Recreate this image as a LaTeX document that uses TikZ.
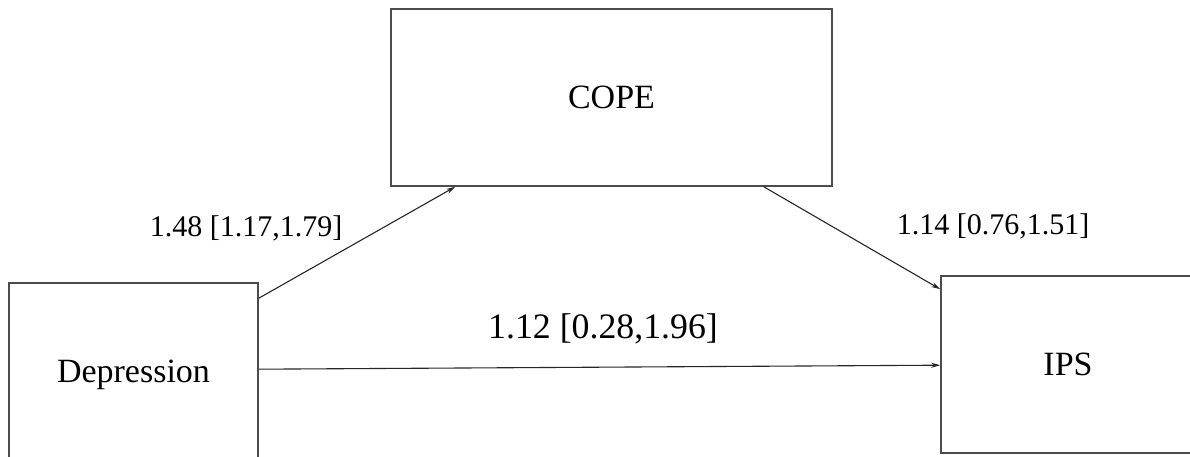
\documentclass[tikz,border=0pt]{standalone}
\usepackage{fontspec}
\setmainfont{Liberation Serif}
\usetikzlibrary{calc,arrows.meta}
\begin{document}
\begin{tikzpicture}[x=1pt,y=1pt,
  varbox/.style={draw=black!70,line width=1.6pt,rectangle,inner sep=0pt,font=\fontsize{34}{40}\selectfont},
  path/.style={draw=black!85,line width=1.1pt,-{Stealth[length=9pt,width=5pt]}},
  coef/.style={font=\fontsize{30}{36}\selectfont,inner sep=0pt},
  coefbig/.style={font=\fontsize{35.8}{42}\selectfont,inner sep=0pt}]
\useasboundingbox (0,0) rectangle (1190,457);
\clip (0,0) rectangle (1190,457);
\fill[white] (0,0) rectangle (1190,457);
\node[varbox,minimum width=249pt,minimum height=184pt] (dep) at (133.5,82) {Depression};
\node[varbox,minimum width=441pt,minimum height=177pt] (cope) at (611.5,359.5) {COPE};
\node[varbox,minimum width=254pt,minimum height=177pt] (ips) at (1068,92.5) {IPS};
\draw[path] ($(dep.north east)+(0,-16)$) -- ($(cope.south west)+(65,0)$);
\draw[path] ($(cope.south east)+(-69,0)$) -- ($(ips.north west)+(0,-14)$);
\draw[path] ($(dep.north east)+(0,-87)$) -- ($(ips.north west)+(0,-90)$);
\node[coef] (l1) at (246,229) {1.48 [1.17,1.79]};
\node[coef] (l2) at (993,231) {1.14 [0.76,1.51]};
\node[coefbig] (l3) at (603,128) {1.12 [0.28,1.96]};
\end{tikzpicture}
\end{document}
